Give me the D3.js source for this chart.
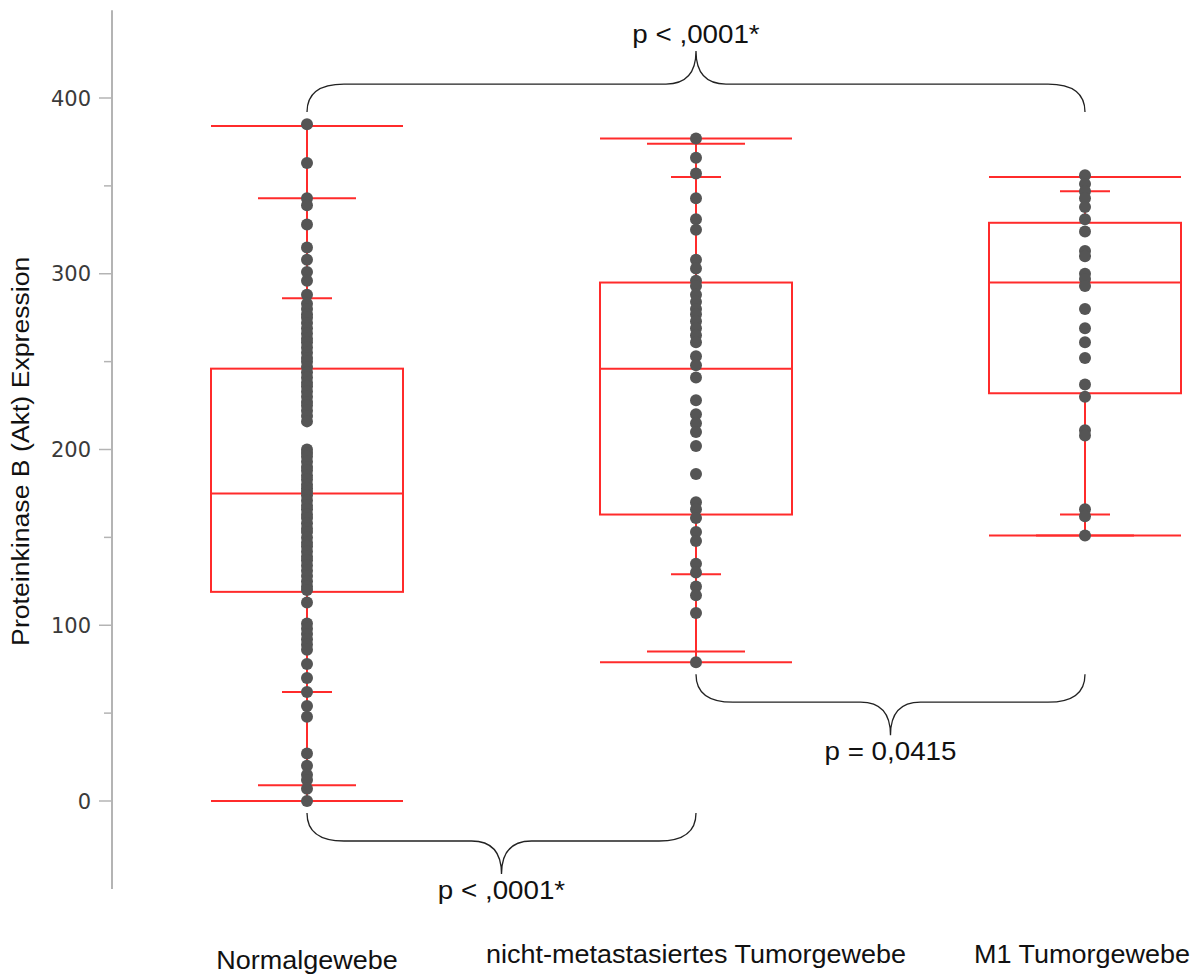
<!DOCTYPE html>
<html>
<head>
<meta charset="utf-8">
<script src="https://cdn.jsdelivr.net/npm/d3@7"></script>
<style>
  body { margin: 0; background: #fff; }
  svg { display: block; }
  .lbl { font-family: "Liberation Sans", Arial, sans-serif; fill: #111; }
  .tick { font-family: "DejaVu Sans", Verdana, sans-serif; fill: #3a3a3a; }
</style>
</head>
<body>
<div class="chart"></div>
<script>
// categories
var groups = ["Normalgewebe", "nicht-metastasiertes Tumorgewebe", "M1 Tumorgewebe"];

var normalValues = [385, 363, 343, 339, 328, 315, 308, 301, 296, 288,
  283, 280, 277, 275, 272, 269, 266, 263, 261, 258, 255, 252, 250, 247, 244,
  241, 238, 236, 233, 230, 227, 225, 222, 219, 216,
  200, 198, 196, 193, 190, 188, 185, 183, 180, 178, 176, 174, 171, 168, 166,
  163, 161, 158, 155, 153, 150, 147, 145, 142, 139, 137, 134, 131, 128, 125, 122, 120,
  113, 101, 98, 95, 92, 89, 86, 78, 70, 62, 54, 48, 27, 20, 15, 12, 7, 0];
var tumorValues = [377, 366, 357, 343, 331, 325, 308, 303, 296, 293, 288, 284,
  280, 277, 273, 269, 265, 261, 253, 248, 241, 228, 220, 215, 210, 202, 186,
  170, 166, 161, 153, 148, 135, 130, 122, 117, 107, 79];
var m1Values = [356, 351, 347, 343, 338, 331, 324, 313, 310, 300, 297, 293,
  280, 269, 261, 252, 237, 230, 211, 208, 166, 162, 151];

// quantiles: min, 2.5%, 10%, 25%, median, 75%, 90%, 97.5%, max
var normalStats = [0, 9, 62, 119, 175, 246, 286, 343, 384];
var tumorStats = [79, 85, 129, 163, 246, 295, 355, 374, 377];
var m1Stats = [151, 151, 163, 232, 295, 329, 347, 355, 355];

var yTicks = [0, 100, 200, 300, 400];
var yMinorTicks = [50, 150, 250, 350];

// p-values between groups
var pairs = [[0, 2], [0, 1], [1, 2]];
var pLabels = ["p < ,0001*", "p < ,0001*", "p = 0,0415"];

function wrapper(){

  var w = 1195, h = 976;
  var stretch = 1.11; // text in the picture is a bit wider than Arial

  var svg = d3.select("div.chart")
              .append("svg")
              .attr("width", w)
              .attr("height", h);

  var x = d3.scalePoint()
            .domain(groups)
            .range([307, 1085]);

  var y = d3.scaleLinear()
            .domain([0, 400])
            .range([801, 98]);

  var boxW = 192;
  var red = "#ff2b2b";

  var series = [
    {name: groups[0], values: normalValues, stats: normalStats},
    {name: groups[1], values: tumorValues, stats: tumorStats},
    {name: groups[2], values: m1Values, stats: m1Stats}
  ];

  //y axis
  var axisX = 112;
  svg.append("line")
     .attr("x1", axisX).attr("x2", axisX)
     .attr("y1", y(450)).attr("y2", y(-50))
     .attr("stroke", "#b4b4b4")
     .attr("stroke-width", 2);

  svg.selectAll(".major")
     .data(yTicks)
     .enter()
     .append("line")
        .attr("x1", axisX - 13).attr("x2", axisX)
        .attr("y1", d => y(d)).attr("y2", d => y(d))
        .attr("stroke", "#b4b4b4")
        .attr("stroke-width", 1.5);

  svg.selectAll(".minor")
     .data(yMinorTicks)
     .enter()
     .append("line")
        .attr("x1", axisX - 8).attr("x2", axisX)
        .attr("y1", d => y(d)).attr("y2", d => y(d))
        .attr("stroke", "#b4b4b4")
        .attr("stroke-width", 1.5);

  svg.selectAll(".tick")
     .data(yTicks)
     .enter()
     .append("text")
        .attr("class", "tick")
        .attr("x", 91)
        .attr("y", d => y(d))
        .attr("dy", "0.36em")
        .attr("text-anchor", "end")
        .style("font-size", "21px")
        .text(d => d);

  svg.append("text")
     .attr("class", "lbl")
     .attr("transform", "translate(29," + y(199) + ") rotate(-90) scale(" + stretch + ",1)")
     .attr("text-anchor", "middle")
     .style("font-size", "24px")
     .text("Proteinkinase B (Akt) Expression");

  //boxes
  var g = svg.append("g")
             .selectAll("g")
             .data(series)
             .enter()
             .append("g")
             .attr("transform", d => `translate(${x(d.name)},0)`);

  // whiskers
  g.append("line")
   .attr("y1", d => y(d.stats[0])).attr("y2", d => y(d.stats[3]))
   .attr("stroke", red).attr("stroke-width", 2);
  g.append("line")
   .attr("y1", d => y(d.stats[5])).attr("y2", d => y(d.stats[8]))
   .attr("stroke", red).attr("stroke-width", 2);

  // quantile marks: [index, half width]
  var marks = [[0, boxW/2], [8, boxW/2], [1, 49], [7, 49], [2, 25], [6, 25], [4, boxW/2]];
  marks.forEach(function(m){
    g.append("line")
     .attr("x1", -m[1]).attr("x2", m[1])
     .attr("y1", d => y(d.stats[m[0]])).attr("y2", d => y(d.stats[m[0]]))
     .attr("stroke", red).attr("stroke-width", 2);
  });

  g.append("rect")
   .attr("x", -boxW/2)
   .attr("width", boxW)
   .attr("y", d => y(d.stats[5]))
   .attr("height", d => y(d.stats[3]) - y(d.stats[5]))
   .attr("fill", "none")
   .attr("stroke", red)
   .attr("stroke-width", 2);

  // points
  g.each(function(d){
    d3.select(this).selectAll("circle")
      .data(d.values)
      .enter()
      .append("circle")
        .attr("cx", 0)
        .attr("cy", v => y(v))
        .attr("r", 6)
        .attr("fill", "#555");
  });

  //braces
  pairs.forEach(function(p, i){
    var a = series[p[0]], b = series[p[1]];
    var x0 = x(a.name), x1 = x(b.name), xm = (x0 + x1) / 2;
    var up = (p[1] - p[0] == 2);
    var s = up ? -1 : 1;
    var ye;
    if(up){
      ye = y(d3.max([a.stats[8], b.stats[8]])) - 14;
    } else {
      ye = y(d3.min([a.stats[0], b.stats[0]])) + 12;
    }
    var yh = ye + s*28, yt = yh + s*33;
    var path = `M${x0},${ye} Q${x0},${yh} ${x0+37},${yh} L${xm-30},${yh} Q${xm},${yh} ${xm},${yt}` +
               ` Q${xm},${yh} ${xm+30},${yh} L${x1-37},${yh} Q${x1},${yh} ${x1},${ye}`;
    svg.append("path")
       .attr("d", path)
       .attr("fill", "none")
       .attr("stroke", "#222")
       .attr("stroke-width", 1.3);
    svg.append("text")
       .attr("class", "lbl")
       .attr("transform", `translate(${xm},${up ? yt - 8 : yt + 25}) scale(${stretch},1)`)
       .attr("text-anchor", "middle")
       .style("font-size", "25px")
       .text(pLabels[i]);
  });

  //category labels
  svg.selectAll(".cat")
     .data(groups)
     .enter()
     .append("text")
        .attr("class", "lbl")
        .attr("transform", (d, i) => `translate(${x(d) - (i == 2 ? 3 : 0)},${i == 0 ? 969 : 963}) scale(1.08,1)`)
        .attr("text-anchor", "middle")
        .style("font-size", "25px")
        .text(d => d);
}
window.onload = wrapper;
</script>
</body>
</html>
